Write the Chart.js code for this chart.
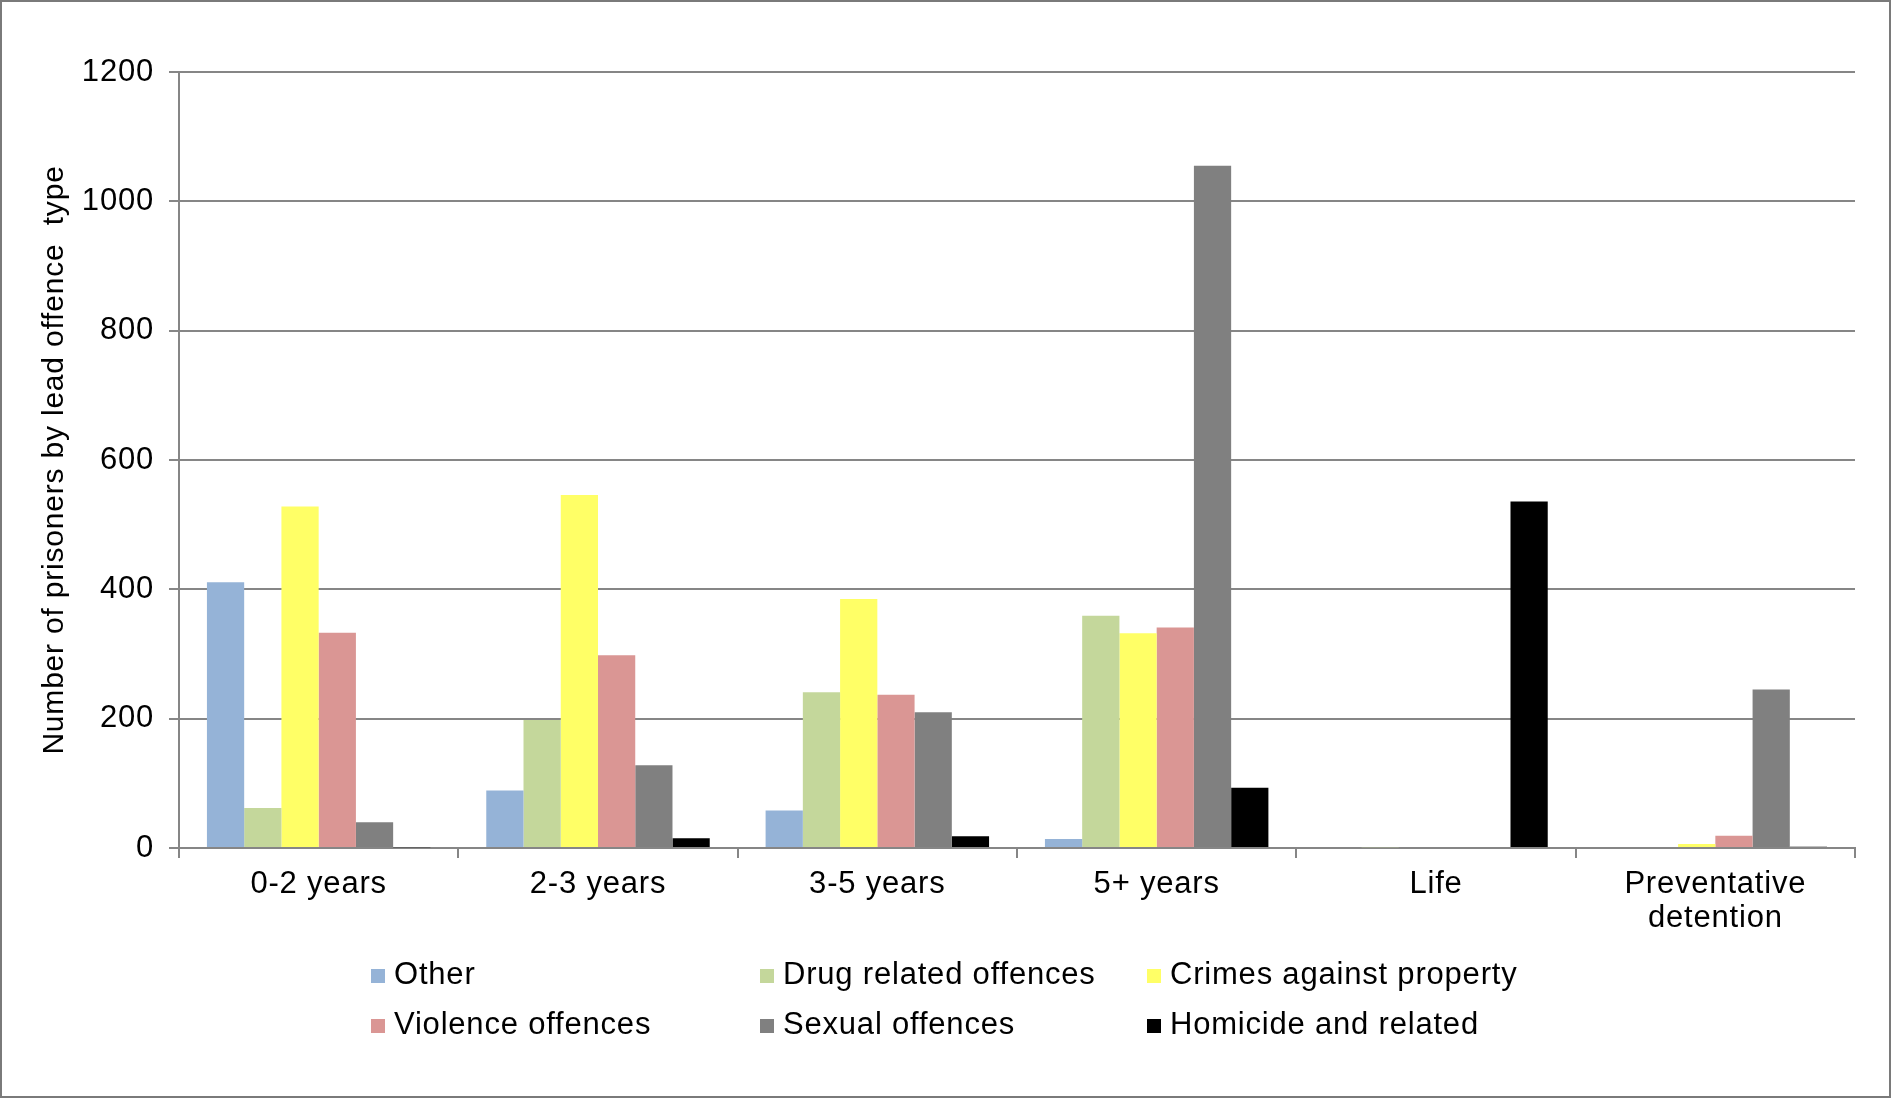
<!DOCTYPE html>
<html>
<head>
<meta charset="utf-8">
<script src="https://cdn.jsdelivr.net/npm/chart.js@4.4.1/dist/chart.umd.min.js"></script>
<style>
  html, body { margin: 0; padding: 0; background: #fff; }
  #wrap { position: relative; width: 1891px; height: 1098px; }
  #frame { position: absolute; left: 0; top: 0; width: 1891px; height: 1098px;
           box-sizing: border-box; border: 2px solid #7a7a7a; pointer-events: none; }
  #legend { position: absolute; left: 0; top: 0; width: 1891px; height: 1098px; pointer-events: none;
            font-family: "Liberation Sans", sans-serif; font-size: 31px; letter-spacing: 0.8px; color: #000; }
  .item { position: absolute; display: flex; align-items: center; white-space: nowrap; }
  .box { width: 14px; height: 14px; margin-right: 9px; margin-top: 4px; }
</style>
</head>
<body>
<div id="wrap">
  <canvas id="grafico" width="1891" height="1098"></canvas>
  <div id="legend"></div>
  <div id="frame"></div>
</div>
<script>
// ============================
// DADOS
// ============================
const categorias = ["0-2 years", "2-3 years", "3-5 years", "5+ years", "Life", ["Preventative", "detention"]];

const nomesSeries = ["Other", "Drug related offences", "Crimes against property",
                     "Violence offences", "Sexual offences", "Homicide and related"];
const coresSeries = ["#95B3D7", "#C4D79B", "#FFFF66", "#DA9694", "#808080", "#000000"];

const other     = [411,  89,  58,   14,   0,   0];
const drug      = [ 62, 198, 241,  359,   1,   0];
const property  = [528, 546, 385,  332,   0,   6];
const violence  = [333, 298, 237,  341,   0,  19];
const sexual    = [ 40, 128, 210, 1055,   0, 245];
const homicide  = [  1,  15,  18,   93, 536,   2];

const valoresSeries = [other, drug, property, violence, sexual, homicide];

const ticksY = [0, 200, 400, 600, 800, 1000, 1200];

// ============================
// GRAFICO
// ============================
const fonte = "Liberation Sans";
const cinza = "#868686";

// espaçamento entre letras (o original tem texto mais "aberto")
const espacamento = {
    id: "espacamento",
    beforeLayout(chart) { chart.ctx.letterSpacing = "0.8px"; },
    beforeDraw(chart) { chart.ctx.letterSpacing = "0.8px"; }
};

const grafico = new Chart(document.getElementById("grafico"), {
    type: "bar",
    data: {
        labels: categorias,
        datasets: valoresSeries.map((vals, i) => ({
            label: nomesSeries[i],
            data: vals,
            backgroundColor: coresSeries[i],
            borderWidth: 0,
            categoryPercentage: 0.8,
            barPercentage: 1.0
        }))
    },
    options: {
        responsive: false,
        devicePixelRatio: 1,
        animation: false,
        layout: { padding: { left: 0, right: 36, top: 72, bottom: 150 } },
        plugins: {
            legend: { display: false },
            tooltip: { enabled: false }
        },
        scales: {
            x: {
                grid: { drawOnChartArea: false, drawTicks: true, tickLength: 10, color: cinza, lineWidth: 2 },
                border: { display: true, color: cinza, width: 2 },
                ticks: {
                    color: "#000",
                    padding: 9,
                    maxRotation: 0,
                    autoSkip: false,
                    font: { family: fonte, size: 31, lineHeight: 1.1 }
                },
                afterFit(scale) { scale.height = 100; }
            },
            y: {
                min: 0,
                max: 1200,
                afterBuildTicks(scale) { scale.ticks = ticksY.map(v => ({ value: v })); },
                grid: { color: cinza, lineWidth: 2, tickLength: 10 },
                border: { display: true, color: cinza, width: 2 },
                ticks: {
                    color: "#000",
                    padding: 15,
                    font: { family: fonte, size: 31 },
                    callback: v => String(v)
                },
                title: {
                    display: true,
                    text: "Number of prisoners by lead offence  type",
                    color: "#000",
                    padding: { top: 37, bottom: 0 },
                    font: { family: fonte, size: 30 }
                },
                afterFit(scale) { scale.width = 179; }
            }
        }
    },
    plugins: [espacamento]
});

// ============================
// LEGENDA (html)
// ============================
const legenda = document.getElementById("legend");
const colunasX = [371, 760, 1147];
const linhasY = [975, 1025];

nomesSeries.forEach((nome, i) => {
    const div = document.createElement("div");
    div.className = "item";
    div.style.left = colunasX[i % 3] + "px";
    div.style.top = (linhasY[Math.floor(i / 3)] - 19) + "px";
    div.innerHTML = `<span class="box" style="background:${coresSeries[i]}"></span><span>${nome}</span>`;
    legenda.appendChild(div);
});
</script>
</body>
</html>
